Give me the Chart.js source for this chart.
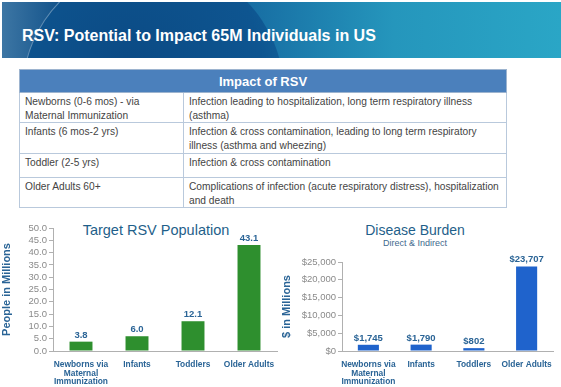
<!DOCTYPE html>
<html>
<head>
<meta charset="utf-8">
<script src="https://cdn.jsdelivr.net/npm/chart.js@4"></script>
<style>
  body { margin: 0; width: 561px; height: 387px; background: #fff; position: relative; overflow: hidden; font-family: "Liberation Sans", Arial, sans-serif; }
  #header { position: absolute; left: 2px; top: 2px; width: 559px; height: 56px; overflow: hidden;
    background: linear-gradient(to right, #3d76a4 0%, #0c4d86 12%, #15679f 40%, #2596bc 70%, #2aa6c6 100%); }
  #ring { position: absolute; left: 20px; top: -40px; width: 260px; height: 260px; border-radius: 50%;
    background: radial-gradient(circle at 40% 40%, #0b4a84 0%, #0e5590 60%, rgba(20,100,160,0) 100%);
    border: 1px solid transparent; border-left-color: rgba(255,255,255,0.35); }
  #header h1 { position: absolute; left: 20px; top: 25px; margin: 0; font-size: 16px; font-weight: bold; color: #fff; }
  #tbl { position: absolute; left: 19px; top: 69px; width: 488px; border-collapse: collapse; font-size: 10.2px; color: #444; }
  #tbl th { background: #4b80bc; color: #fff; font-size: 13px; height: 22px; padding: 0; border: 1px solid #9db4cf; }
  #tbl td { border: 1px solid #b9c9dc; padding: 2px 4px 0 5px; vertical-align: top; line-height: 13.5px; white-space: nowrap; }
  .ctitle { position: absolute; text-align: center; color: #1f5f8a; font-size: 14.5px; white-space: nowrap; }
  .csub { position: absolute; text-align: center; color: #3f6a8e; font-size: 9px; white-space: nowrap; }
  canvas { position: absolute; }
</style>
</head>
<body>
<div id="header"><div id="ring"></div><h1>RSV: Potential to Impact 65M Individuals in US</h1></div>
<table id="tbl">
  <tr><th colspan="2">Impact of RSV</th></tr>
  <tr style="height:29px"><td style="width:154px">Newborns (0-6 mos) - via<br>Maternal Immunization</td><td>Infection leading to hospitalization, long term respiratory illness<br>(asthma)</td></tr>
  <tr style="height:31px"><td>Infants (6 mos-2 yrs)</td><td>Infection &amp; cross contamination, leading to long term respiratory<br>illness (asthma and wheezing)</td></tr>
  <tr style="height:24px"><td>Toddler (2-5 yrs)</td><td>Infection &amp; cross contamination</td></tr>
  <tr style="height:30px"><td>Older Adults 60+</td><td>Complications of infection (acute respiratory distress), hospitalization<br>and death</td></tr>
</table>

<div class="ctitle" style="left:76px; top:222px; width:160px;">Target RSV Population</div>
<div class="ctitle" style="left:335px; top:222px; width:160px; font-size:14px;">Disease Burden</div>
<div class="csub" style="left:335px; top:238px; width:160px;">Direct &amp; Indirect</div>

<canvas id="population" width="280" height="177" style="left:0; top:210px; width:280px; height:177px;"></canvas>
<canvas id="burden" width="281" height="177" style="left:280px; top:210px; width:281px; height:177px;"></canvas>

<script>
const groups = [["Newborns via", "Maternal", "Immunization"], "Infants", "Toddlers", "Older Adults"];
const populationMillions = [3.8, 6.0, 12.1, 43.1];
const burdenMillions = [1745, 1790, 802, 23707];

const axisBlue = "#2a6496";
const tickGrey = "#8a8a8a";

// value labels above each bar
const barLabels = {
  id: "barLabels",
  afterDatasetsDraw(chart, args, opts) {
    const ctx = chart.ctx;
    const meta = chart.getDatasetMeta(0);
    ctx.save();
    ctx.font = "bold 9.5px 'Liberation Sans', Arial";
    ctx.fillStyle = axisBlue;
    ctx.textAlign = "center";
    ctx.textBaseline = "bottom";
    meta.data.forEach((bar, i) => {
      ctx.fillText(opts.format(chart.data.datasets[0].data[i]), bar.x, bar.y - 2);
    });
    ctx.restore();
  }
};

function makeChart(id, values, color, yMax, yStep, yFmt, yTitle, yWidth, topPad, rightPad, barPct) {
  return new Chart(document.getElementById(id).getContext("2d"), {
    type: "bar",
    data: {
      labels: groups,
      datasets: [{ data: values, backgroundColor: color, barPercentage: barPct, categoryPercentage: 1 }]
    },
    options: {
      responsive: false,
      animation: false,
      layout: { padding: { top: topPad, right: rightPad, left: 0, bottom: 0 } },
      plugins: {
        legend: { display: false },
        tooltip: { enabled: false },
        barLabels: { format: yFmt.label }
      },
      scales: {
        x: {
          grid: { display: false },
          border: { color: "#b0b0b0" },
          ticks: { color: axisBlue, font: { size: 8.4, weight: "bold", family: "'Liberation Sans', Arial", lineHeight: 1.05 }, padding: 1, maxRotation: 0, autoSkip: false },
          afterFit: s => { s.height = 36; }
        },
        y: {
          min: 0,
          max: yMax,
          grid: { drawOnChartArea: false, tickLength: 4, color: "#b0b0b0" },
          border: { color: "#b0b0b0" },
          ticks: { stepSize: yStep, autoSkip: false, color: tickGrey, font: { size: 9.5, family: "'Liberation Sans', Arial" }, padding: 2, callback: yFmt.tick },
          title: { display: true, text: yTitle, color: axisBlue, font: { size: 11, weight: "bold", family: "'Liberation Sans', Arial" }, padding: 0 },
          afterFit: s => { s.width = yWidth; }
        }
      }
    },
    plugins: [barLabels]
  });
}

let Population = makeChart("population", populationMillions, "#2e8f2e", 50, 5,
  { tick: v => v.toFixed(1), label: v => v.toFixed(1) },
  "People in Millions", 53, 18, 3, 0.41);

let Burden = makeChart("burden", burdenMillions, "#1f63cc", 25000, 5000,
  { tick: v => "$" + v.toLocaleString("en-US"), label: v => "$" + v.toLocaleString("en-US") },
  "$ in Millions", 62, 52, 8, 0.4);
</script>
</body>
</html>
